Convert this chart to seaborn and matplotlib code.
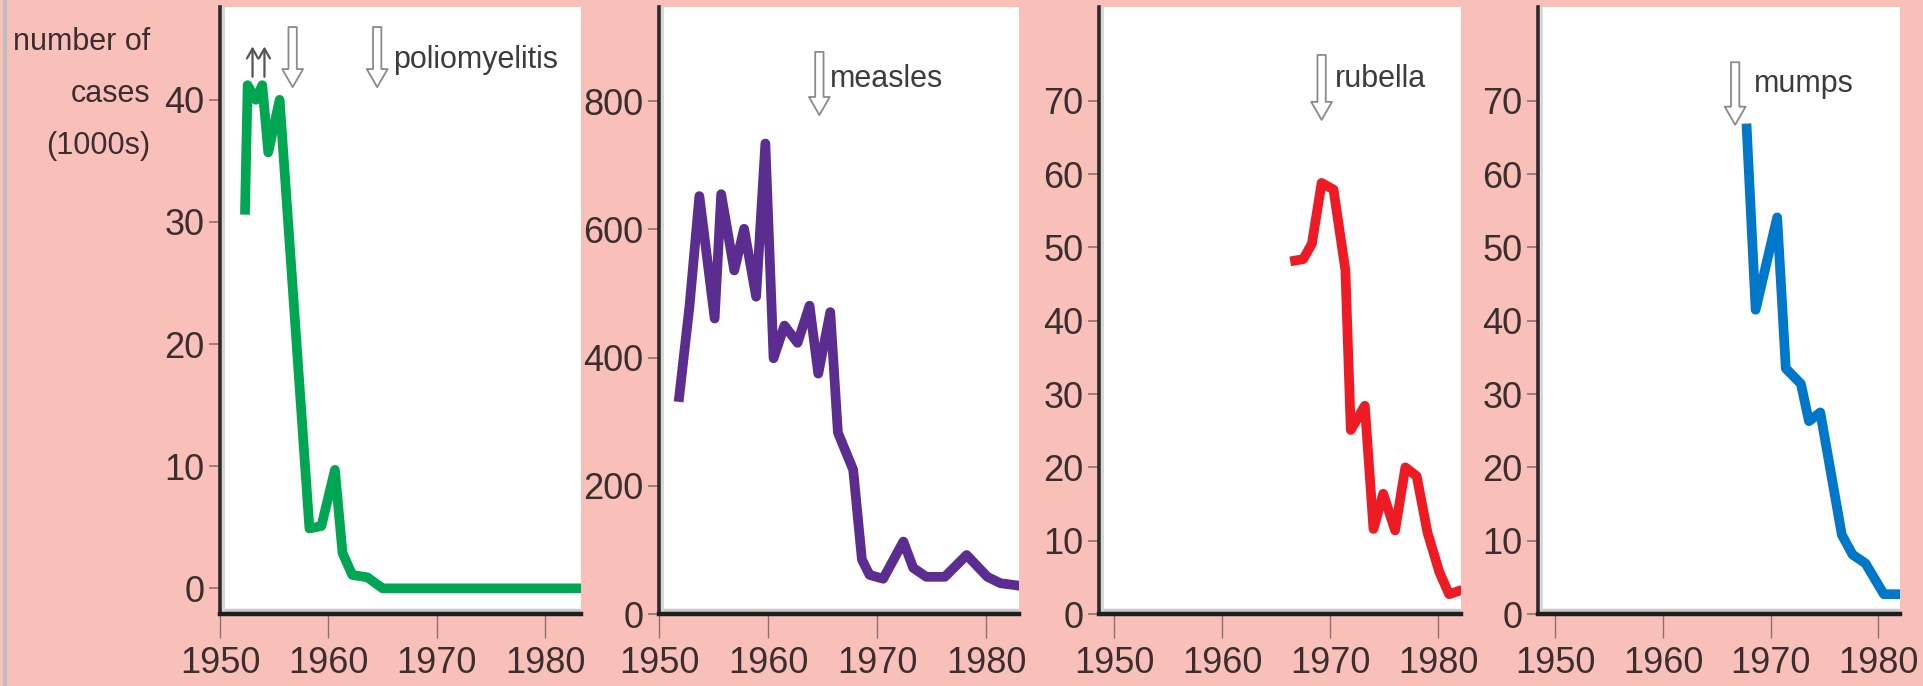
import matplotlib
matplotlib.use("Agg")
import matplotlib.pyplot as plt
import seaborn as sns
from matplotlib.lines import Line2D

# Data (year, cases); line positions follow the picture
polio_year = [1952.3, 1952.55, 1953.3, 1953.9, 1954.45, 1955.5, 1958.25, 1959.35,
              1960.6, 1961.3, 1962.2, 1963.6, 1965.0, 1984.0]
polio_cases = [30.6, 41.2, 40.0, 41.2, 35.7, 40.0, 4.9, 5.1, 9.7, 2.9, 1.1, 0.9, 0.0, 0.0]

measles_year = [1951.8, 1952.8, 1953.7, 1955.1, 1955.7, 1956.9, 1957.8, 1958.9, 1959.75,
                1960.5, 1961.5, 1962.7, 1963.8, 1964.6, 1965.7, 1966.4, 1967.8, 1968.6,
                1969.3, 1970.55, 1972.4, 1973.3, 1974.5, 1976.2, 1978.2, 1980.1, 1981.3, 1983.1]
measles_cases = [331, 481, 652, 461, 655, 536, 601, 495, 734, 399, 450, 423, 481, 375, 471,
                 283, 225, 85, 61, 55, 113, 72, 58, 58, 92, 58, 48, 44]

rubella_year = [1966.3, 1967.5, 1968.3, 1969.2, 1970.3, 1971.4, 1971.9, 1973.2, 1974.0,
                1974.9, 1976.0, 1976.95, 1978.0, 1979.0, 1980.1, 1981.0, 1982.2]
rubella_cases = [48.1, 48.4, 50.5, 58.8, 57.9, 46.9, 25.1, 28.4, 11.6, 16.4, 11.4, 20.0,
                 18.8, 11.1, 5.7, 2.7, 3.3]

mumps_year = [1967.75, 1968.6, 1970.6, 1971.4, 1972.8, 1973.55, 1974.6, 1976.6, 1977.6,
              1978.8, 1980.5, 1982.2]
mumps_cases = [66.9, 41.5, 54.1, 33.5, 31.4, 26.3, 27.5, 10.8, 8.1, 6.9, 2.7, 2.7]

diseases = ["poliomyelitis", "measles", "rubella", "mumps"]
x_ticks = [1950, 1960, 1970, 1980]
y_ticks = [[0, 10, 20, 30, 40], [0, 200, 400, 600, 800],
           [0, 10, 20, 30, 40, 50, 60, 70], [0, 10, 20, 30, 40, 50, 60, 70]]
ylabel = "number of\ncases\n(1000s)"

# vaccine introduction arrows (year) and the label arrow
label_arrow_year = [1964.5, 1964.7, 1969.2, 1966.7]
extra_hollow_year = [1956.7]
small_up_year = [1953.0, 1954.1]

# styling / layout
colors = ["#00a651", "#5b2d90", "#ed1c24", "#0077c8"]
pink = "#f9c0ba"
tick_col = "#8c7070"
text_col = "#3a2e2e"
boxes = [[220, 581], [659, 1019], [1099, 1461], [1538, 1900]]
xlims = [(1950, 1983.3), (1950, 1983.0), (1948.6, 1982.1), (1948.4, 1982.0)]
ylims = [(-2.1, 47.6), (0, 947), (0, 82.8), (0, 82.8)]
arrow_frac = [(0.967, 0.868), (0.926, 0.822), (0.921, 0.814), (0.909, 0.806)]
text_pos = [(1966.0, 0.900), (1965.7, 0.868), (1970.45, 0.868), (1968.4, 0.860)]

plt.rcParams['font.family'] = ['Liberation Sans', 'DejaVu Sans']

W, H = 1923, 686
fig = plt.figure(figsize=(W / 100, H / 100), dpi=100, facecolor=pink)

series = [(polio_year, polio_cases), (measles_year, measles_cases),
          (rubella_year, rubella_cases), (mumps_year, mumps_cases)]


def hollow_arrow(ax, x, top, bottom):
    ax.annotate("", xy=(x, bottom), xytext=(x, top),
                xycoords=("data", "axes fraction"), textcoords=("data", "axes fraction"),
                arrowprops=dict(arrowstyle="simple,head_length=0.65,head_width=0.75,tail_width=0.3",
                                fc="white", ec="#8a8a8a", lw=1.3, shrinkA=0, shrinkB=0,
                                mutation_scale=20))


for i, (yrs, vals) in enumerate(series):
    left, right = boxes[i]
    ax = fig.add_axes([left / W, (H - 614) / H, (right - left) / W, 607 / H])
    ax.set_facecolor("white")
    sns.lineplot(x=yrs, y=vals, ax=ax, color=colors[i], linewidth=7,
                 estimator=None, sort=False)
    for line in ax.get_lines():
        line.set_solid_joinstyle("round")
        line.set_solid_capstyle("butt")
    ax.set_xlim(*xlims[i])
    ax.set_ylim(*ylims[i])
    ax.set_xticks(x_ticks)
    ax.set_yticks(y_ticks[i])
    for s in ["top", "right"]:
        ax.spines[s].set_visible(False)
    ax.spines["left"].set_color("#2a2a2a")
    ax.spines["left"].set_linewidth(2.6)
    ax.spines["bottom"].set_color("#1e1e1e")
    ax.spines["bottom"].set_linewidth(3.2)
    ax.tick_params(axis="x", direction="out", length=17, width=1.0, color=tick_col,
                   labelsize=26, labelcolor=text_col, pad=6)
    ax.tick_params(axis="y", direction="out", length=8, width=1.2, color=tick_col,
                   labelsize=26, labelcolor=text_col, pad=3)
    ax.set_xlabel("")
    ax.set_ylabel("")

    # light grey shading just inside the axis lines
    ax.add_line(Line2D([0, 1], [0.006, 0.006], transform=ax.transAxes,
                       color="#cbcbcb", lw=2.5, zorder=1))
    ax.add_line(Line2D([0.007, 0.007], [0, 1], transform=ax.transAxes,
                       color="#d5d5d5", lw=2.0, zorder=1))

    top, bottom = arrow_frac[i]
    hollow_arrow(ax, label_arrow_year[i], top, bottom)
    tx, ty = text_pos[i]
    ax.text(tx, ty, diseases[i], transform=ax.get_xaxis_transform(), fontsize=22,
            color="#3c3c3c", ha="left", va="baseline")

    if i == 0:
        for yr in extra_hollow_year:
            hollow_arrow(ax, yr, top, bottom)
        for yr in small_up_year:
            ax.annotate("", xy=(yr, 0.935), xytext=(yr, 0.885),
                        xycoords=("data", "axes fraction"), textcoords=("data", "axes fraction"),
                        arrowprops=dict(arrowstyle="->,head_length=0.35,head_width=0.2",
                                        color="#555555", lw=1.6, shrinkA=0, shrinkB=0,
                                        mutation_scale=20))

fig.text(150 / W, 1 - 27 / H, ylabel, ha="right", va="top", fontsize=22,
         color=text_col, linespacing=1.95)

# thin grey frame line at the left edge of the page
fig.add_artist(Line2D([5 / W, 5 / W], [0, 1], transform=fig.transFigure,
                      color="#bdbdbd", lw=3))

fig.savefig("out.png", dpi=100, facecolor=pink)
